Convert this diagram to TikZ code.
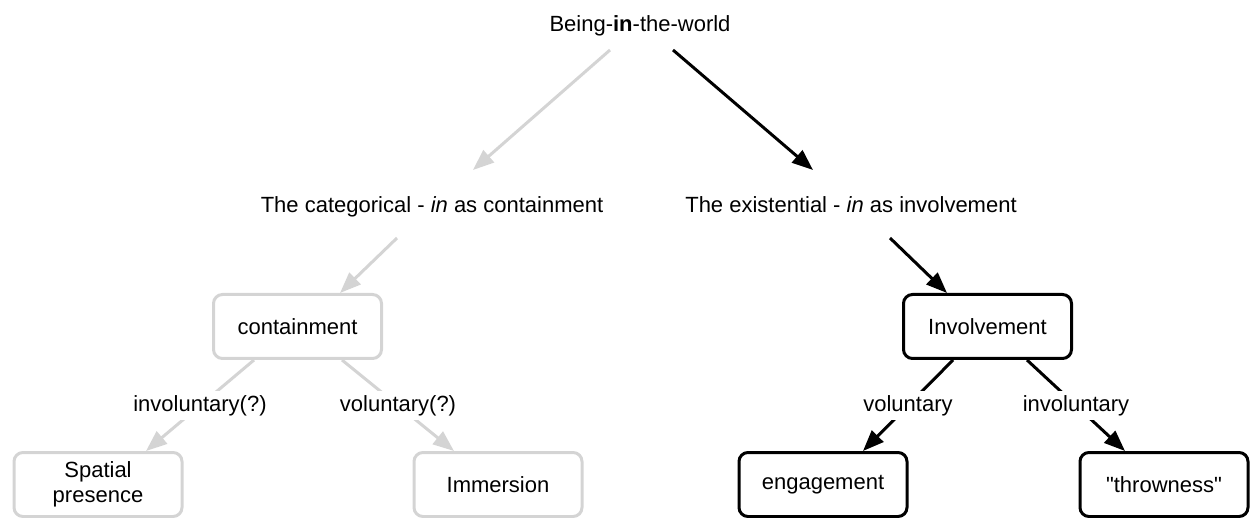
\documentclass[tikz,border=0pt]{standalone}
\usepackage{fontspec}
\setmainfont{Liberation Sans}[Ligatures=TeXOff]
\usetikzlibrary{arrows.meta,calc}
\definecolor{lg}{RGB}{212,212,212}
\begin{document}
\begin{tikzpicture}[x=1pt,y=-1pt,
  font=\fontsize{22}{25}\selectfont,
  box/.style={line width=3pt, rounded corners=9pt, minimum width=168pt, minimum height=64pt, align=center, inner sep=0pt},
  gbox/.style={box, draw=lg},
  bbox/.style={box, draw=black},
  garrow/.style={draw=lg, line width=3pt, -{Triangle[length=21pt,width=16pt]}},
  barrow/.style={draw=black, line width=3pt, -{Triangle[length=21pt,width=16pt]}},
  lbl/.style={fill=white, inner sep=4pt}
]
\useasboundingbox (0,0) rectangle (1250,518);
\node[anchor=base] (top) at (640,32) {Being-\textbf{in}-the-world};
\node[anchor=base] (cat) at (432,213) {The categorical - \textit{in} as containment};
\node[anchor=base] (exi) at (851,213) {The existential - \textit{in} as involvement};
\node[gbox] (cont) at (297.5,326.5) {containment};
\node[bbox] (inv) at (987.5,326.5) {Involvement};
\node[gbox] (sp) at (98,484.5) {Spatial\\presence};
\node[gbox] (imm) at (498,484.5) {Immersion};
\node[bbox] (eng) at (823,484.5) {engagement};
\node[bbox] (thr) at (1164,484.5) {"throwness"};

\draw[garrow] ($(top.base)+(-30,18)$) -- ($(cat.base)+(41,-43)$);
\draw[barrow] ($(top.base)+(33,18)$) -- ($(exi.base)+(-38,-43)$);
\draw[garrow] ($(cat.base)+(-35,25)$) -- ($(cont.north)+(42.5,0)$);
\draw[barrow] ($(exi.base)+(39,25)$) -- ($(inv.north)+(-40.5,0)$);

\draw[garrow] ($(cont.south)+(-43.5,0)$) -- node[lbl]{involuntary(?)} ($(sp.north)+(48,0)$);
\draw[garrow] ($(cont.south)+(44.5,0)$) -- node[lbl]{voluntary(?)} ($(imm.north)+(-44,0)$);
\draw[barrow] ($(inv.south)+(-34.5,0)$) -- node[lbl]{voluntary} ($(eng.north)+(40,0)$);
\draw[barrow] ($(inv.south)+(39.5,0)$) -- node[lbl]{involuntary} ($(thr.north)+(-39,0)$);
\end{tikzpicture}
\end{document}
